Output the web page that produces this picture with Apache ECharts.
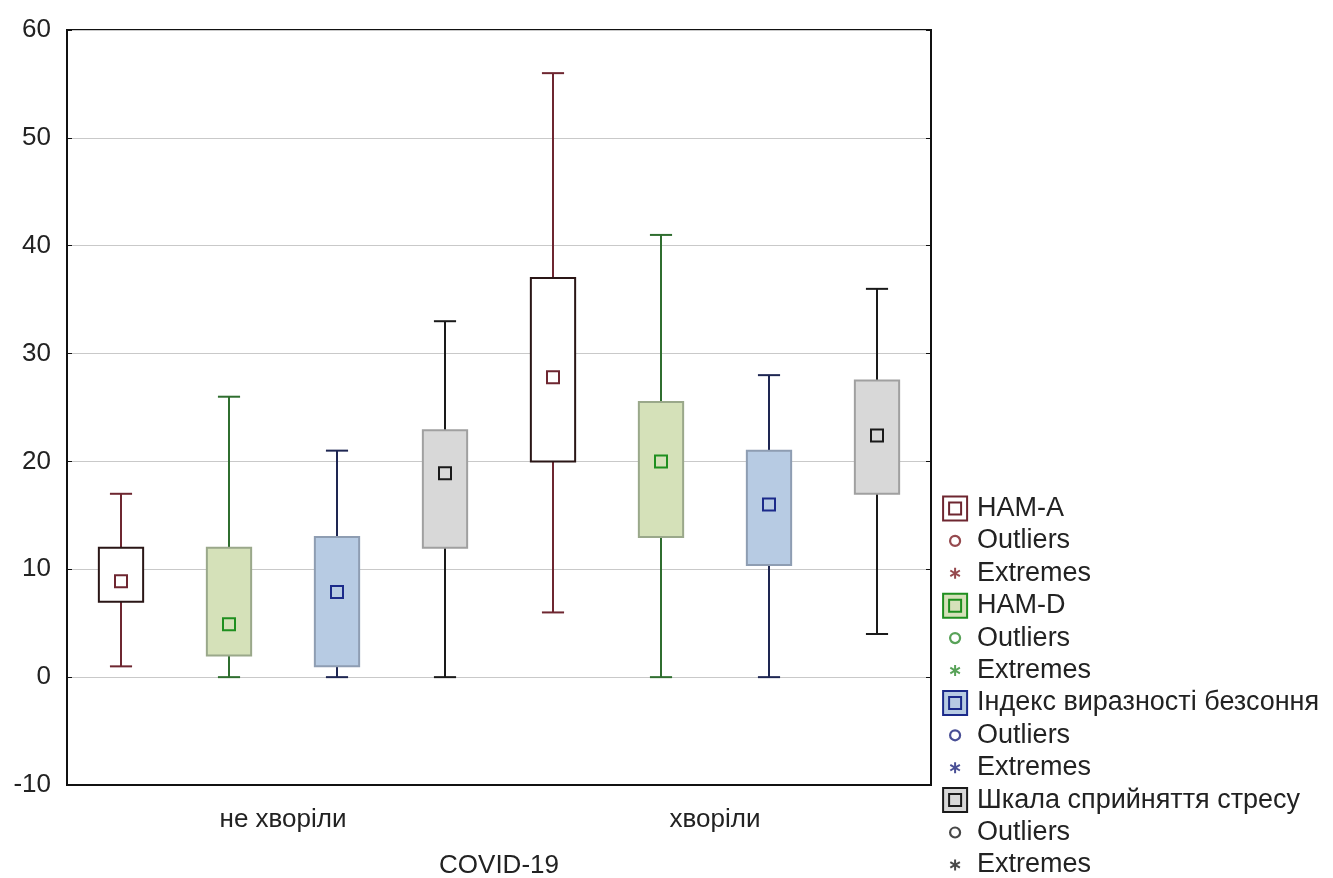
<!DOCTYPE html>
<html lang="uk">
<head>
    <meta charset="UTF-8">
    <title>COVID-19 boxplot</title>
    <script src="https://cdn.jsdelivr.net/npm/echarts@6/dist/echarts.min.js"></script>
    <style>
        html, body { margin: 0; padding: 0; background: #fff; }
        #chart { width: 1333px; height: 878px; }
    </style>
</head>
<body>
<div id="chart"></div>
<script>
    // groups on the x axis
    var groups = ['не хворіли', 'хворіли'];
    // per group: [min, Q1, median, Q3, max]
    var hamA = [[1, 7, 8.9, 12, 17], [6, 20, 27.8, 37, 56]];
    var hamD = [[0, 2, 4.9, 12, 26], [0, 13, 20, 25.5, 41]];
    var insomnia = [[0, 1, 7.9, 13, 21], [0, 10.4, 16, 21, 28]];
    var stress = [[0, 12, 18.9, 22.9, 33], [4, 17, 22.4, 27.5, 36]];
    var yTicks = [-10, 0, 10, 20, 30, 40, 50, 60];

    var FONT = 'Liberation Sans, Arial, sans-serif';

    var vars = [
        {name: 'HAM-A', data: hamA, whisker: '#6e2630', fill: '#ffffff', border: '#2a1616', mark: '#6e2630', dot: '#7a1c22'},
        {name: 'HAM-D', data: hamD, whisker: '#2f6e2f', fill: '#d5e1b9', border: '#9aa88a', mark: '#1f8f1f', dot: '#2e8b2e'},
        {name: 'Індекс виразності безсоння', data: insomnia, whisker: '#1e2652', fill: '#b7cbe3', border: '#8e9db2', mark: '#1b2a8a', dot: '#1b237a'},
        {name: 'Шкала сприйняття стресу', data: stress, whisker: '#1a1a1a', fill: '#d8d8d8', border: '#a0a0a0', mark: '#1a1a1a', dot: '#1a1a1a'}
    ];

    function makeRender(slot, v) {
        return function (params, api) {
            var g = api.value(0);
            var slotW = api.size([1, 0])[0] / 4;
            var cx = api.coord([g, 0])[0] + (slot - 1.5) * slotW;
            var y = [1, 2, 3, 4, 5].map(function (d) {
                return api.coord([g, api.value(d)])[1];
            });
            var bw = slotW * 0.41, cw = bw / 2, ms = 12;
            var ln = {stroke: v.whisker, lineWidth: 2};
            return {
                type: 'group',
                children: [
                    {type: 'line', shape: {x1: cx, y1: y[4], x2: cx, y2: y[3]}, style: ln},
                    {type: 'line', shape: {x1: cx - cw / 2, y1: y[4], x2: cx + cw / 2, y2: y[4]}, style: ln},
                    {type: 'line', shape: {x1: cx, y1: y[1], x2: cx, y2: y[0]}, style: ln},
                    {type: 'line', shape: {x1: cx - cw / 2, y1: y[0], x2: cx + cw / 2, y2: y[0]}, style: ln},
                    {type: 'rect', shape: {x: cx - bw / 2, y: y[3], width: bw, height: y[1] - y[3]},
                        style: {fill: v.fill, stroke: v.border, lineWidth: 2}},
                    {type: 'rect', shape: {x: cx - ms / 2, y: y[2] - ms / 2, width: ms, height: ms},
                        style: {fill: v.fill, stroke: v.mark, lineWidth: 2}}
                ]
            };
        };
    }

    var boxIcon = 'path://M0,0H24V24H0Z M6,6H18V18H6Z';
    var circleIcon = 'path://M0,0M24,24M12,7A5,5,0,1,1,11.99,7Z';
    var starIcon = 'path://M0,0M24,24M12,6.5V17.5M7.2,9.2L16.8,14.8M7.2,14.8L16.8,9.2';

    var series = [];
    var legendData = [];
    vars.forEach(function (v, k) {
        series.push({
            name: v.name,
            type: 'custom',
            renderItem: makeRender(k, v),
            encode: {x: 0, y: [1, 2, 3, 4, 5]},
            data: v.data.map(function (row, i) { return [i].concat(row); }),
            z: 3
        });
        series.push({name: 'Outliers #' + k, type: 'scatter', data: []});
        series.push({name: 'Extremes #' + k, type: 'scatter', data: []});
        legendData.push(
            {name: v.name, icon: boxIcon, itemStyle: {color: v.fill, borderColor: v.mark, borderWidth: 2}},
            {name: 'Outliers #' + k, icon: circleIcon, itemStyle: {color: 'rgba(0,0,0,0)', borderColor: v.dot, borderWidth: 2.2}},
            {name: 'Extremes #' + k, icon: starIcon, itemStyle: {color: 'rgba(0,0,0,0)', borderColor: v.dot, borderWidth: 2}}
        );
    });

    var chart = echarts.init(document.getElementById('chart'));
    chart.setOption({
        animation: false,
        backgroundColor: '#fff',
        textStyle: {fontFamily: FONT},
        grid: {left: 67, right: 402, top: 30, bottom: 93, outerBoundsMode: 'none',
            show: true, borderColor: '#111', borderWidth: 2},
        legend: {
            orient: 'vertical',
            left: 942,
            top: 495,
            height: 400,
            padding: 0,
            itemWidth: 24,
            itemHeight: 24,
            itemGap: 5.4,
            selectedMode: false,
            data: legendData,
            formatter: function (name) { return name.replace(/ #\d$/, ''); },
            textStyle: {fontFamily: FONT, fontSize: 27, color: '#222', padding: [0, 0, 0, 5]}
        },
        xAxis: {
            type: 'category',
            data: groups,
            name: 'COVID-19',
            nameLocation: 'middle',
            nameGap: 68,
            nameTextStyle: {fontFamily: FONT, fontSize: 26, color: '#222'},
            axisLine: {onZero: false, lineStyle: {color: '#111', width: 2}},
            axisTick: {alignWithLabel: true, inside: true, length: 6, lineStyle: {color: '#111'}},
            axisLabel: {fontFamily: FONT, fontSize: 26, color: '#222', margin: 22},
            splitLine: {show: false}
        },
        yAxis: [{
            type: 'value',
            min: yTicks[0],
            max: yTicks[yTicks.length - 1],
            interval: 10,
            axisLine: {show: true, lineStyle: {color: '#111', width: 2}},
            axisTick: {show: true, inside: true, length: 5, lineStyle: {color: '#111'}},
            axisLabel: {fontFamily: FONT, fontSize: 26, color: '#222', margin: 16},
            splitLine: {lineStyle: {color: '#c9c9c9', width: 1}}
        }, {
            type: 'value',
            position: 'right',
            min: yTicks[0],
            max: yTicks[yTicks.length - 1],
            interval: 10,
            axisLine: {show: true, lineStyle: {color: '#111', width: 2}},
            axisTick: {show: true, inside: true, length: 5, lineStyle: {color: '#111'}},
            axisLabel: {show: false},
            splitLine: {show: false}
        }],
        series: series
    });
</script>
</body>
</html>
